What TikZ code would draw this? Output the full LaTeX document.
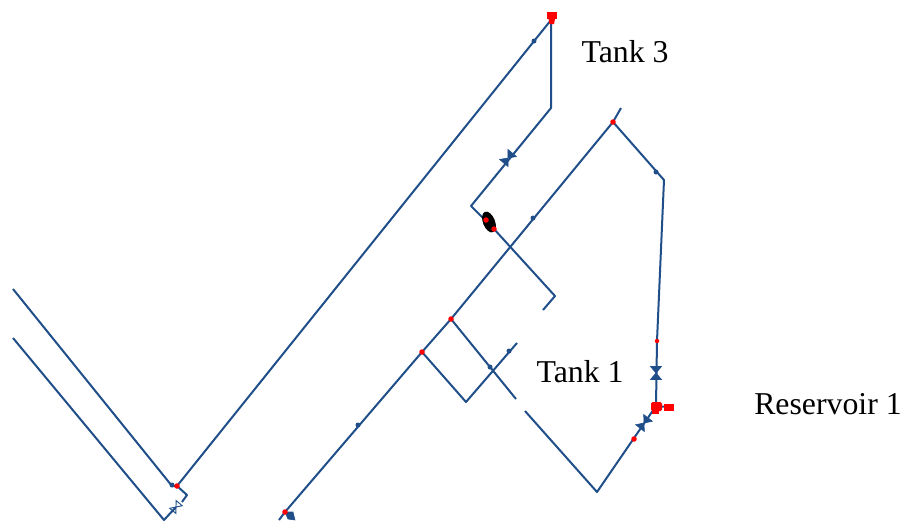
\documentclass[tikz,border=0pt]{standalone}
\usepackage{fontspec}
\setmainfont{Liberation Serif}
\definecolor{pipeblue}{RGB}{31,78,137}
\definecolor{jred}{RGB}{255,0,0}
\tikzset{
  x=1pt,y=-1pt,
  pipe/.style={draw=pipeblue,line width=2pt,line join=round},
  lbl/.style={inner sep=0pt,font=\fontsize{31.8}{32}\selectfont,text=black},
  jdot/.style={circle,fill=jred,inner sep=0pt,minimum size=5.5pt},
  jsmall/.style={circle,fill=jred,inner sep=0pt,minimum size=4.5pt},
  bdot/.style={circle,fill=pipeblue,inner sep=0pt,minimum size=5pt},
  vtri/.style={fill=pipeblue,draw=pipeblue,line width=.6pt},
}
\begin{document}
\begin{tikzpicture}
\useasboundingbox (0,0) rectangle (903,523);
% coordinates
\coordinate (a0) at (13,289);
\coordinate (j1) at (177,486);
\coordinate (t3) at (551,20);
\coordinate (c1) at (551,108);
\coordinate (c2) at (471,206);
\coordinate (j2) at (494,229);
\coordinate (c3) at (555,296);
\coordinate (e1) at (543,310);
\coordinate (e2) at (517,343);
\coordinate (c4) at (466,402);
\coordinate (j3) at (422,352);
\coordinate (j4) at (451,319);
\coordinate (j5) at (613,122);
\coordinate (e3) at (621,108);
\coordinate (j6) at (285,512);
\coordinate (e4) at (279,520);
\coordinate (e5) at (516,399);
\coordinate (e6) at (525,411);
\coordinate (c5) at (597,492);
\coordinate (r1) at (656,406);
\coordinate (j7) at (657,341);
\coordinate (c6) at (664,180);
\coordinate (b0) at (13,338);
\coordinate (b1) at (164,520);
\coordinate (v0) at (176,507);
\coordinate (c7) at (187,495);
\coordinate (r2) at (668,407);
% pipes
\draw[pipe] (a0) -- (172,486) -- (j1);
\draw[pipe] (j1) -- (t3) -- (c1) -- (c2) -- (j2) -- (c3) -- (e1);
\draw[pipe] (e2) -- (c4) -- (j3);
\draw[pipe] (e4) -- (j6) -- (j3) -- (j4) -- (j5) -- (e3);
\draw[pipe] (j4) -- (e5);
\draw[pipe] (e6) -- (c5) -- (r1) -- (j7) -- (c6) -- (j5);
\draw[pipe] (r1) -- (r2);
\draw[pipe] (b0) -- (b1) -- (v0);
\draw[pipe] (j1) -- (c7) -- (182,502);
% pipe dots
\foreach \n/\p in {d1/{534,41},d2/{656,172},d3/{533,218},d4/{490,367},d5/{358,425},d6/{509,351},d7/{172,485}}
  \node[bdot] (\n) at (\p) {};
% valves
\foreach \n/\p/\r in {v1/{508,158}/-40,v2/{656,373}/0,v3/{644,423}/-38}{
  \begin{scope}[shift={(\p)},rotate=\r]
    \fill[vtri] (-5.5,-6.5) -- (5.5,-6.5) -- (0,0) -- cycle;
    \fill[vtri] (-5.5,6.5) -- (5.5,6.5) -- (0,0) -- cycle;
  \end{scope}
}
\fill[vtri] (285,512) -- (293,512) -- (295,520) -- (288,519) -- cycle;
\begin{scope}[shift={(176,507)},rotate=-40]
  \draw[pipeblue,line width=.9pt] (-4,-5) -- (4,-5) -- (0,0) -- cycle;
  \draw[pipeblue,line width=.9pt] (-4,5) -- (4,5) -- (0,0) -- cycle;
\end{scope}
% black blob
\fill[black,rotate around={-68:(489,222)}] (489,222) ellipse (11pt and 6pt);
% red items
\node[jdot] (n1) at (j1) {};
\node[jdot] (n2) at (j6) {};
\node[jdot] (n3) at (j3) {};
\node[jdot] (n4) at (j4) {};
\node[jdot] (n5) at (j5) {};
\node[jdot] (n6) at (j2) {};
\node[jdot] (n7) at (486,220) {};
\node[jsmall] (n8) at (j7) {};
\node[jdot] (n9) at (634,439) {};
\fill[jred] (547,12) rectangle (557,19);
\fill[jred] (548.5,19) -- (555,19) -- (554,24) -- (549.5,24) -- cycle;
\fill[jred,rounded corners=1.5pt] (651,402) rectangle (662,411);
\fill[jred] (652,411) rectangle (659,414);
\fill[jred] (664,403.5) rectangle (674,410.5);
% labels
\node[lbl] (tank3) at (625,52) {Tank 3};
\node[lbl] (tank1) at (580,372) {Tank 1};
\node[lbl] (res1) at (828,404) {Reservoir 1};
\end{tikzpicture}
\end{document}
